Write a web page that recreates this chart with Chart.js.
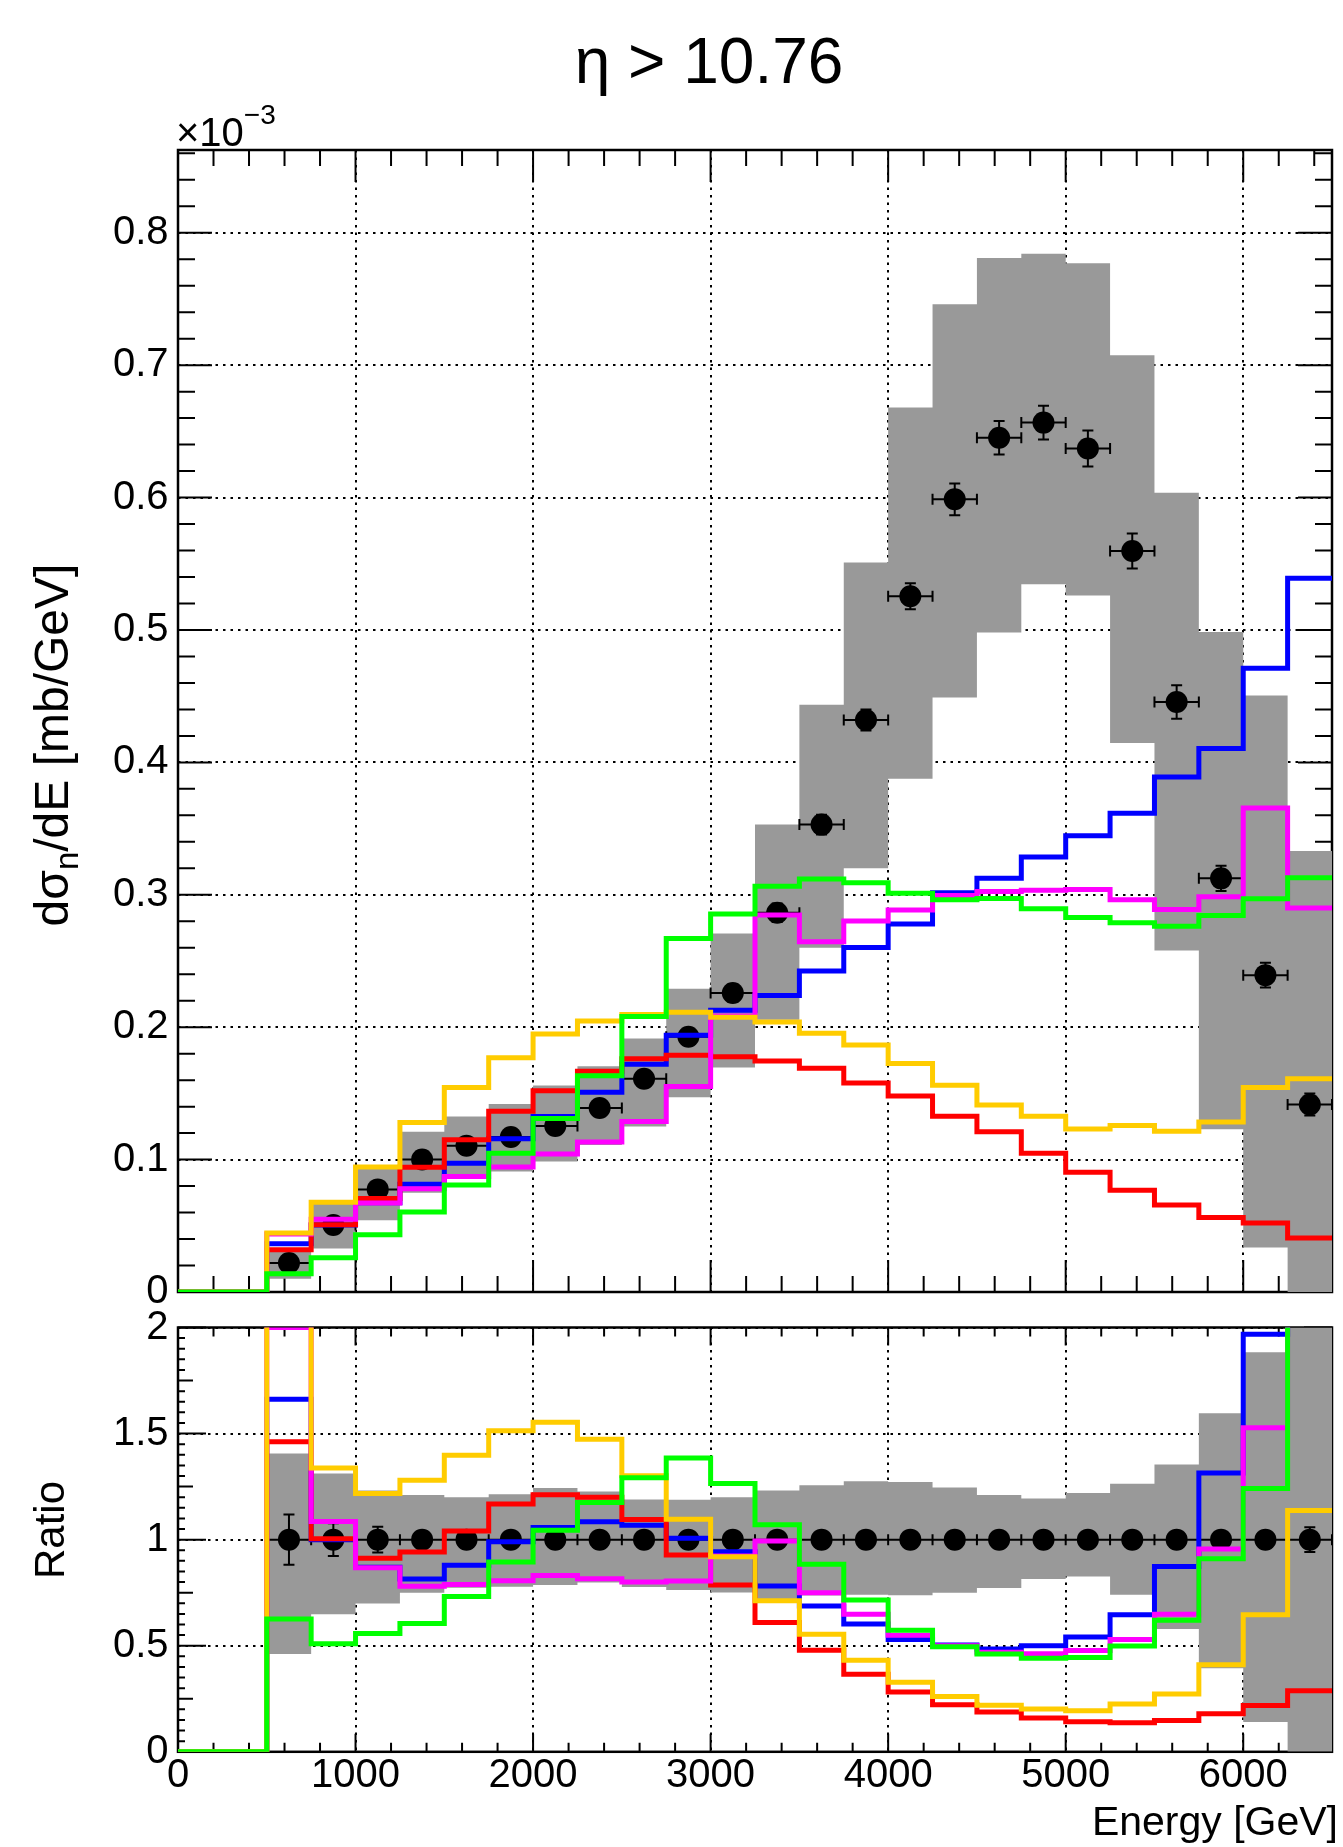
<!DOCTYPE html>
<html>
<head>
<meta charset="utf-8">
<script src="https://cdn.jsdelivr.net/npm/chart.js@4.4.1/dist/chart.umd.min.js"></script>
<style>
    html, body { margin: 0; padding: 0; background: #fff; }
    #wrap { position: relative; width: 1343px; height: 1847px; }
    #wrap canvas { position: absolute; left: 0; top: 0; }
</style>
</head>
<body>
<div id="wrap">
    <canvas id="mainChart" width="1343" height="1847"></canvas>
    <canvas id="ratioChart" width="1343" height="1847"></canvas>
</div>
<script>
// energy bins [GeV]
const binEdges = [0, 250, 500, 750, 1000, 1250, 1500, 1750, 2000, 2250, 2500, 2750, 3000, 3250,
    3500, 3750, 4000, 4250, 4500, 4750, 5000, 5250, 5500, 5750, 6000, 6250, 6500];
const binCenters = [125, 375, 625, 875, 1125, 1375, 1625, 1875, 2125, 2375, 2625, 2875, 3125,
    3375, 3625, 3875, 4125, 4375, 4625, 4875, 5125, 5375, 5625, 5875, 6125, 6375];

// tick labels
const energyTicks = [0, 1000, 2000, 3000, 4000, 5000, 6000];
const xsecTicks = [0, 0.1, 0.2, 0.3, 0.4, 0.5, 0.6, 0.7, 0.8];
const ratioTicks = [0, 0.5, 1, 1.5, 2];

// measured dsigma/dE, units of 1e-3 mb/GeV (null = empty bin)
const dataVals = [null, null, 0.0219, 0.0506, 0.0775, 0.100, 0.1105, 0.117, 0.1254, 0.139, 0.161,
    0.1928, 0.2258, 0.2865, 0.353, 0.432, 0.5254, 0.5987, 0.6452, 0.6566, 0.637, 0.5597, 0.4456,
    0.3124, 0.2393, 0.1416];
const dataErr = [null, null, 0.0026, 0.0039, 0.0047, 0.004, 0.004, 0.0042, 0.0045, 0.005, 0.0055,
    0.006, 0.0065, 0.007, 0.0075, 0.008, 0.0098, 0.012, 0.0126, 0.0128, 0.0136, 0.0132, 0.0126,
    0.0095, 0.0093, 0.0083];

// systematic band
const bandHigh = [null, null, 0.0308, 0.0664, 0.0955, 0.121, 0.1326, 0.142, 0.156, 0.1705, 0.1915,
    0.229, 0.2708, 0.353, 0.4435, 0.551, 0.668, 0.746, 0.781, 0.7842, 0.777, 0.7074, 0.6037,
    0.4985, 0.4506, 0.333];
const bandLow = [null, null, 0.0101, 0.0328, 0.0542, 0.075, 0.0855, 0.091, 0.0986, 0.111, 0.125,
    0.147, 0.1695, 0.2056, 0.260, 0.320, 0.3876, 0.449, 0.498, 0.5345, 0.526, 0.4146, 0.258,
    0.123, 0.0337, 0];

// model predictions
const mcBlue = [0, 0, 0.0364, 0.0506, 0.0674, 0.0814, 0.0972, 0.1158, 0.1326, 0.1508, 0.172, 0.194,
    0.2128, 0.224, 0.2425, 0.2602, 0.278, 0.3015, 0.3125, 0.3285, 0.3445, 0.3616, 0.389, 0.4104,
    0.471, 0.539];
const mcRed = [0, 0, 0.032, 0.0508, 0.0707, 0.0942, 0.115, 0.1366, 0.152, 0.1668, 0.1762, 0.1788,
    0.1776, 0.1745, 0.169, 0.1578, 0.148, 0.1328, 0.121, 0.1048, 0.0904, 0.0768, 0.0658, 0.0562,
    0.0522, 0.0408];
const mcMagenta = [0, 0, 0.0438, 0.0549, 0.0672, 0.078, 0.0872, 0.0944, 0.1042, 0.1133, 0.1288,
    0.1552, 0.2085, 0.2848, 0.2646, 0.2802, 0.2885, 0.2995, 0.3025, 0.3035, 0.304, 0.2962, 0.2888,
    0.2985, 0.3655, 0.290];
const mcYellow = [0, 0, 0.0445, 0.0677, 0.0944, 0.128, 0.1544, 0.177, 0.1948, 0.2047, 0.2095,
    0.2113, 0.2075, 0.204, 0.1955, 0.1866, 0.1725, 0.1562, 0.1412, 0.1328, 0.1232, 0.1258, 0.1215,
    0.1283, 0.1545, 0.161];
const mcGreen = [0, 0, 0.0137, 0.0258, 0.0432, 0.0605, 0.0809, 0.1047, 0.131, 0.1634, 0.208, 0.267,
    0.2855, 0.3065, 0.312, 0.309, 0.3012, 0.2962, 0.2972, 0.2895, 0.2828, 0.2788, 0.2762, 0.2843,
    0.297, 0.3128];

const FONT = '"Liberation Sans", Arial, sans-serif';

function histPoints(vals) {
    let pts = [];
    for (let i = 0; i < vals.length; i++) {
        if (vals[i] === null) continue;
        pts.push({x: binEdges[i], y: vals[i]});
        pts.push({x: binEdges[i + 1], y: vals[i]});
    }
    return pts;
}

function toRatio(vals) {
    return vals.map((v, i) => {
        if (v === null) return null;
        return dataVals[i] ? v / dataVals[i] : 0;
    });
}

function histDataset(label, vals, colour, order) {
    return {
        label: label,
        data: histPoints(vals),
        borderColor: colour,
        borderWidth: 5,
        borderJoinStyle: 'miter',
        borderCapStyle: 'butt',
        pointRadius: 0,
        tension: 0,
        fill: false,
        order: order
    };
}

function bandDatasets(high, low) {
    return [{
        label: 'bandHigh',
        data: histPoints(high),
        borderColor: 'rgba(0,0,0,0)',
        borderWidth: 0,
        pointRadius: 0,
        fill: '+1',
        backgroundColor: '#999999',
        order: 9
    }, {
        label: 'bandLow',
        data: histPoints(low),
        borderColor: 'rgba(0,0,0,0)',
        borderWidth: 0,
        pointRadius: 0,
        fill: false,
        order: 8
    }];
}

function pointsDataset(yVals, yErr) {
    let pts = [], ex = [], ey = [];
    for (let i = 0; i < dataVals.length; i++) {
        if (dataVals[i] === null) continue;
        pts.push({x: binCenters[i], y: yVals[i]});
        ex.push((binEdges[i + 1] - binEdges[i]) / 2);
        ey.push(yErr[i]);
    }
    return {
        label: 'data',
        data: pts,
        showLine: false,
        pointRadius: 11,
        pointBorderWidth: 0,
        pointBackgroundColor: '#000',
        errX: ex,
        errY: ey,
        order: 6
    };
}

// error bars with end caps, drawn just before the markers
const errorBars = {
    id: 'errorBars',
    beforeDatasetDraw(chart, args) {
        const ds = chart.data.datasets[args.index];
        if (!ds.errY) return;
        const xs = chart.scales.x, ys = chart.scales.y, ctx = chart.ctx;
        const cap = 5.5;
        ctx.save();
        ctx.strokeStyle = '#000';
        ctx.lineWidth = 2;
        ctx.beginPath();
        ds.data.forEach((p, i) => {
            const px = xs.getPixelForValue(p.x), py = ys.getPixelForValue(p.y);
            const x0 = xs.getPixelForValue(p.x - ds.errX[i]), x1 = xs.getPixelForValue(p.x + ds.errX[i]);
            const y0 = ys.getPixelForValue(p.y - ds.errY[i]), y1 = ys.getPixelForValue(p.y + ds.errY[i]);
            ctx.moveTo(x0, py); ctx.lineTo(x1, py);
            ctx.moveTo(x0, py - cap); ctx.lineTo(x0, py + cap);
            ctx.moveTo(x1, py - cap); ctx.lineTo(x1, py + cap);
            ctx.moveTo(px, y0); ctx.lineTo(px, y1);
            ctx.moveTo(px - cap, y0); ctx.lineTo(px + cap, y0);
            ctx.moveTo(px - cap, y1); ctx.lineTo(px + cap, y1);
        });
        ctx.stroke();
        ctx.restore();
    }
};

// frame and inward ticks on all four sides
const rootFrame = {
    id: 'rootFrame',
    beforeDatasetsDraw(chart, args, opts) {
        const {ctx, chartArea: a} = chart;
        const xs = chart.scales.x, ys = chart.scales.y;
        ctx.save();
        ctx.strokeStyle = '#000';
        ctx.lineWidth = 2;
        ctx.beginPath();
        let n = Math.floor((xs.max - xs.min) / opts.xMinor + 1e-6);
        for (let i = 0; i <= n; i++) {
            const v = xs.min + i * opts.xMinor;
            const px = xs.getPixelForValue(v);
            const len = (Math.abs(v / opts.xMajor - Math.round(v / opts.xMajor)) < 1e-6) ? opts.xMajorLen : opts.xMinorLen;
            ctx.moveTo(px, a.bottom); ctx.lineTo(px, a.bottom - len);
            ctx.moveTo(px, a.top); ctx.lineTo(px, a.top + len);
        }
        n = Math.floor((ys.max - ys.min) / opts.yMinor + 1e-6);
        for (let i = 0; i <= n; i++) {
            const v = ys.min + i * opts.yMinor;
            const py = ys.getPixelForValue(v);
            let len = opts.yMinorLen;
            if (Math.abs(v / opts.yMajor - Math.round(v / opts.yMajor)) < 1e-6) len = opts.yMajorLen;
            else if (opts.yMid && Math.abs(v / opts.yMid - Math.round(v / opts.yMid)) < 1e-6) len = opts.yMidLen;
            ctx.moveTo(a.left, py); ctx.lineTo(a.left + len, py);
            ctx.moveTo(a.right, py); ctx.lineTo(a.right - len, py);
        }
        ctx.stroke();
        ctx.lineWidth = 2.5;
        ctx.strokeRect(a.left, a.top, a.right - a.left, a.bottom - a.top);
        ctx.restore();
    }
};

function drawParts(ctx, parts, x, y, rotate, centred) {
    ctx.save();
    ctx.translate(x, y);
    if (rotate) ctx.rotate(-Math.PI / 2);
    ctx.fillStyle = '#000';
    ctx.textAlign = 'left';
    ctx.textBaseline = 'alphabetic';
    let total = 0;
    parts.forEach(p => {
        ctx.font = p.size + 'px ' + FONT;
        p.w = ctx.measureText(p.t).width;
        total += p.w;
    });
    let cx = centred ? -total / 2 : 0;
    parts.forEach(p => {
        ctx.font = p.size + 'px ' + FONT;
        ctx.fillText(p.t, cx, p.dy || 0);
        cx += p.w;
    });
    ctx.restore();
}

const mainTexts = {
    id: 'mainTexts',
    afterDraw(chart) {
        const ctx = chart.ctx;
        drawParts(ctx, [{t: '\u03b7 > 10.76', size: 64}], 709, 83, false, true);
        drawParts(ctx, [{t: '\u00d710', size: 40}, {t: '\u22123', size: 28, dy: -22}], 176, 146, false, false);
        drawParts(ctx, [{t: 'd\u03c3', size: 48}, {t: 'n', size: 33, dy: 10}, {t: '/dE [mb/GeV]', size: 48}],
            68, 745, true, true);
    }
};

const ratioTexts = {
    id: 'ratioTexts',
    afterDraw(chart) {
        const ctx = chart.ctx;
        drawParts(ctx, [{t: 'Ratio', size: 42}], 64, 1530, true, true);
        ctx.save();
        ctx.font = '41px ' + FONT;
        ctx.fillStyle = '#000';
        ctx.textAlign = 'right';
        ctx.fillText('Energy [GeV]', 1338, 1835);
        ctx.restore();
    }
};

const tickFont = {family: FONT, size: 40, lineHeight: 1};
const fmt = v => String(parseFloat(Number(v).toFixed(2)));
const gridStyle = {color: '#000', lineWidth: 2, drawTicks: false};
const borderStyle = {display: false, dash: [2.5, 5]};

function setTicks(values) {
    return (s) => { s.ticks = values.map(v => ({value: v})); };
}

function baseOptions(padding, yMax, yTickVals, xTicks, frameOpts) {
    return {
        responsive: false,
        animation: false,
        devicePixelRatio: 1,
        events: [],
        layout: {padding: padding},
        plugins: {
            legend: {display: false},
            tooltip: {enabled: false},
            title: {display: false},
            rootFrame: frameOpts
        },
        scales: {
            x: {
                type: 'linear',
                min: 0,
                max: 6500,
                ticks: xTicks,
                grid: gridStyle,
                border: borderStyle,
                afterBuildTicks: setTicks(energyTicks),
                afterFit: (s) => { s.height = xTicks.display === false ? 0 : 60; }
            },
            y: {
                type: 'linear',
                min: 0,
                max: yMax,
                ticks: {padding: 9.5, color: '#000', font: tickFont, callback: fmt},
                grid: gridStyle,
                border: borderStyle,
                afterBuildTicks: setTicks(yTickVals),
                afterFit: (s) => { s.width = 178; }
            }
        }
    };
}

// upper panel
new Chart(document.getElementById('mainChart'), {
    type: 'line',
    data: {
        datasets: [
            histDataset('green', mcGreen, '#00ff00', 1),
            histDataset('yellow', mcYellow, '#ffcc00', 2),
            histDataset('magenta', mcMagenta, '#ff00ff', 3),
            histDataset('red', mcRed, '#ff0000', 4),
            histDataset('blue', mcBlue, '#0000ff', 5),
            pointsDataset(dataVals, dataErr),
            ...bandDatasets(bandHigh, bandLow)
        ]
    },
    options: baseOptions(
        {top: 150, bottom: 1847 - 1292, left: 0, right: 3.5},
        0.8625, xsecTicks,
        {display: false},
        {xMinor: 200, xMajor: 1000, xMajorLen: 32, xMinorLen: 16,
         yMinor: 0.02, yMajor: 0.1, yMajorLen: 34, yMinorLen: 17}
    ),
    plugins: [rootFrame, errorBars, mainTexts]
});

// ratio panel
const ratioOne = dataVals.map(v => v === null ? null : 1);
const ratioErr = dataErr.map((e, i) => e === null ? null : e / dataVals[i]);

new Chart(document.getElementById('ratioChart'), {
    type: 'line',
    data: {
        datasets: [
            histDataset('green', toRatio(mcGreen), '#00ff00', 1),
            histDataset('yellow', toRatio(mcYellow), '#ffcc00', 2),
            histDataset('magenta', toRatio(mcMagenta), '#ff00ff', 3),
            histDataset('red', toRatio(mcRed), '#ff0000', 4),
            histDataset('blue', toRatio(mcBlue), '#0000ff', 5),
            pointsDataset(ratioOne, ratioErr),
            ...bandDatasets(toRatio(bandHigh), toRatio(bandLow))
        ]
    },
    options: baseOptions(
        {top: 1327.5, bottom: 1847 - 1751.8 - 60, left: 0, right: 3.5},
        2, ratioTicks,
        {padding: 4, maxRotation: 0, autoSkip: false, color: '#000', font: tickFont, callback: fmt},
        {xMinor: 200, xMajor: 1000, xMajorLen: 18, xMinorLen: 9,
         yMinor: 0.05, yMajor: 0.5, yMid: 0.25, yMajorLen: 28, yMidLen: 15, yMinorLen: 7}
    ),
    plugins: [rootFrame, errorBars, ratioTexts]
});
</script>
</body>
</html>
